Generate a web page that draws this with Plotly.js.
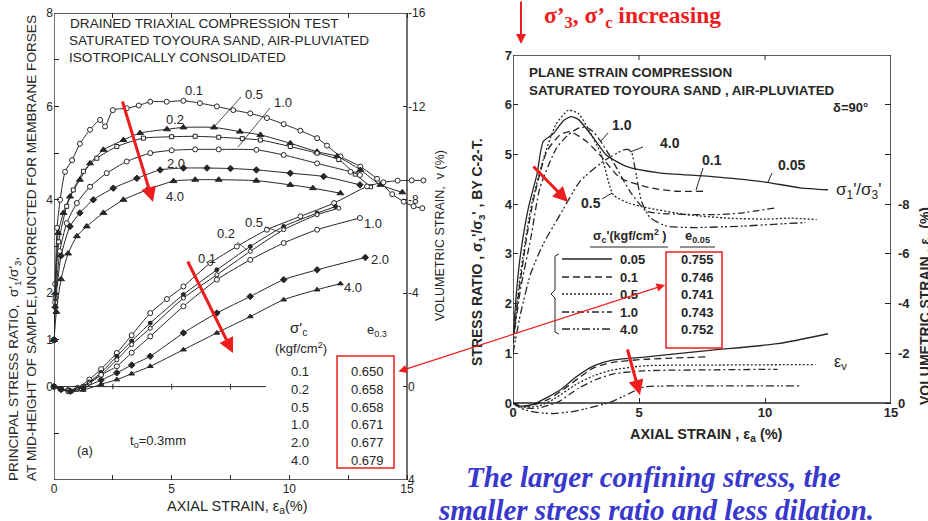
<!DOCTYPE html>
<html><head><meta charset="utf-8">
<script src="https://cdn.plot.ly/plotly-3.0.1.min.js"></script>
<style>html,body{margin:0;padding:0;background:#fff}#c{width:928px;height:521px}</style>
</head><body><div id="c"></div>
<script>
// ---------- LEFT: triaxial, stress ratio vs axial strain ----------
const ls01x=[0,0.05,0.13,0.26,0.47,0.77,1.1,1.53,1.96,2.17,2.5,3.09,3.6,4.09,4.79,5.5,6.2,6.92,7.62,8.34,9.05,9.76,10.47,11.18,11.6,12.17,13.02,13.73,14.37,14.86,15.28,15.65];
const ls01y=[1.0,2.2,3.4,4.0,4.6,4.85,5.2,5.5,5.71,5.57,5.92,5.96,6.02,6.10,6.10,6.12,6.07,6.0,5.92,5.85,5.75,5.62,5.48,5.32,5.16,4.93,4.71,4.45,4.12,3.96,3.86,3.82];
const ls02x=[0,0.05,0.18,0.4,0.68,1.1,1.53,2.1,2.95,3.66,4.8,5.5,6.8,7.9,8.77,10.04,11.18,12.03,13.02,13.87,14.8];
const ls02y=[1.0,2.0,3.29,3.72,4.07,4.43,4.78,5.07,5.28,5.43,5.51,5.55,5.55,5.46,5.39,5.21,5.03,4.93,4.64,4.32,4.16];
const ls05x=[0,0.05,0.2,0.54,0.82,1.25,1.82,2.67,3.8,5.0,6.0,7.0,8.0,8.77,10.04,11.18,12.1,12.8,13.45];
const ls05y=[1.0,1.9,3.1,3.86,4.21,4.61,4.89,5.14,5.32,5.35,5.36,5.34,5.31,5.28,5.14,5.0,4.86,4.55,4.28];
const ls10x=[0,0.05,0.25,0.54,0.97,1.53,2.24,3.09,4.09,5.0,6.0,7.0,8.6,9.76,11.18,12.6,13.0];
const ls10y=[1.0,1.8,2.9,3.5,3.93,4.28,4.57,4.82,5.0,5.06,5.08,5.08,5.07,4.96,4.78,4.6,4.53];
const ls20x=[0,0.05,0.3,0.68,1.1,1.67,2.52,3.52,4.51,5.5,6.5,7.5,8.6,10.04,11.46,13.0];
const ls20y=[1.0,1.7,2.8,3.43,3.72,4.0,4.25,4.46,4.64,4.68,4.68,4.67,4.64,4.57,4.5,4.32];
const ls40x=[0,0.1,0.3,0.6,0.97,1.39,2.1,2.95,3.94,5.08,6.0,7.0,8.6,10.04,11.0,12.17];
const ls40y=[1.0,1.6,2.3,2.85,3.22,3.43,3.72,4.0,4.21,4.4,4.43,4.43,4.41,4.32,4.25,4.14];
// ---------- LEFT: volumetric strain v (%) ----------
const lv01x=[0,0.3,0.6,1.0,1.5,2.0,2.67,3.3,4.09,4.8,5.5,6.64,7.77,9.05,10.47,11.9,13.3,14.0,14.6,15.2,15.7];
const lv01y=[0,0.1,0.15,0.05,-0.3,-0.75,-1.44,-2.2,-3.15,-3.75,-4.29,-5.29,-6.0,-6.72,-7.29,-7.86,-8.57,-8.75,-8.82,-8.83,-8.83];
const lv02x=[0,0.3,0.6,1.0,1.5,2.0,2.67,3.3,4.09,5.5,6.92,8.34,9.76,11.18,11.96];
const lv02y=[0,0.1,0.17,0.1,-0.2,-0.6,-1.3,-1.95,-2.72,-3.94,-5.0,-6.0,-6.86,-7.43,-7.71];
const lv05x=[0,0.3,0.6,1.0,1.5,2.0,2.67,3.3,4.09,5.5,6.92,8.34,9.76,11.18,12.1];
const lv05y=[0,0.12,0.18,0.12,-0.15,-0.5,-1.15,-1.8,-2.5,-3.79,-4.79,-5.79,-6.72,-7.36,-7.64];
const lv10x=[0,0.3,0.6,1.24,2.0,2.67,3.3,4.09,5.5,6.92,8.34,9.76,11.18,13.0];
const lv10y=[0,0.12,0.2,0.0,-0.5,-0.87,-1.45,-2.15,-3.44,-4.58,-5.43,-6.15,-6.72,-7.22];
const lv20x=[0,0.3,0.7,1.24,2.0,2.67,3.3,4.09,5.5,6.92,8.34,9.76,11.18,13.23];
const lv20y=[0,0.12,0.2,0.05,-0.28,-0.59,-0.92,-1.3,-2.3,-3.15,-3.86,-4.58,-5.0,-5.53];
const lv40x=[0,0.3,0.7,1.24,2.0,2.67,3.3,4.09,5.5,6.92,8.34,9.76,11.18,12.17];
const lv40y=[0,0.12,0.22,0.15,-0.1,-0.3,-0.55,-0.87,-1.58,-2.3,-3.0,-3.72,-4.15,-4.41];
// ---------- RIGHT: plane strain, stress ratio ----------
const rs005x=[0,0.15,0.3,0.6,0.95,1.2,1.6,2.0,2.3,2.6,3.2,3.7,4.5,5.8,7.8,9.8,11.4,12.5];
const rs005y=[1.3,2.3,3.0,3.9,4.6,5.26,5.42,5.68,5.76,5.7,5.33,4.99,4.76,4.63,4.56,4.46,4.33,4.29];
const rs01x=[0,0.2,0.5,0.8,1.34,1.86,2.26,2.92,3.45,4.25,5.44,6.5,7.55];
const rs01y=[1.2,2.1,3.2,4.06,5.06,5.39,5.46,5.26,4.99,4.53,4.33,4.26,4.26];
const rs05x=[0,0.3,0.7,1.2,1.7,2.2,2.6,3.0,3.5,3.98,4.6,5.3,6.9,8.5,10.0,11.0,12.05];
const rs05y=[1.3,2.6,3.9,4.9,5.6,5.89,5.82,5.5,5.0,4.19,4.02,3.93,3.79,3.72,3.7,3.72,3.69];
const rs10x=[0,0.3,0.7,1.07,1.73,2.2,2.6,2.9,3.2,3.58,4.11,4.64,5.3,6.5,8.0,9.0,10.46];
const rs10y=[1.2,2.3,3.3,4.33,5.13,5.4,5.53,5.55,5.45,5.19,4.73,4.26,3.86,3.8,3.79,3.82,3.93];
const rs40x=[0,0.3,0.7,1.2,1.87,2.66,3.58,4.38,4.55,4.7,4.84,5.1,5.44,6.1,7.15,9.13,10.5,11.6];
const rs40y=[1.0,1.8,2.6,3.2,3.79,4.46,4.86,5.09,5.1,5.05,4.73,4.06,3.73,3.56,3.53,3.56,3.6,3.63];
// ---------- RIGHT: volumetric strain ----------
const rv005x=[0,0.3,0.8,1.3,1.9,2.5,3.2,3.9,5.2,7.8,10.5,12.5];
const rv005y=[0,0.12,0.05,-0.2,-0.55,-1.05,-1.5,-1.72,-1.85,-2.12,-2.39,-2.79];
const rv01x=[0,0.3,0.8,1.4,2,2.6,3.2,3.9,5.2,7.7];
const rv01y=[0,0.12,0.08,-0.15,-0.55,-1.0,-1.42,-1.63,-1.76,-1.86];
const rv05x=[0,0.3,1,1.6,2.5,3.2,3.9,5.2,8,12];
const rv05y=[0,0.15,0.12,-0.15,-0.75,-1.1,-1.32,-1.5,-1.53,-1.55];
const rv10x=[0,0.3,1,1.8,2.6,3.3,4,5.2,8,10.5];
const rv10y=[0,0.18,0.2,-0.05,-0.6,-0.95,-1.18,-1.3,-1.34,-1.36];
const rv40x=[0,0.4,1,1.6,2.3,2.9,3.9,4.6,5.2,6.2,11.4];
const rv40y=[0,0.25,0.38,0.42,0.35,0.22,-0.05,-0.38,-0.65,-0.69,-0.69];
// legend / labels
const leftSig=['0.1','0.2','0.5','1.0','2.0','4.0'];
const leftE=['0.650','0.658','0.658','0.671','0.677','0.679'];
const rightSig=['0.05','0.1','0.5','1.0','4.0'];
const rightE=['0.755','0.746','0.741','0.743','0.752'];

const W=928,H=521, INK='#262626', RED='#ee1c1c';
const fx=p=>p/W, fy=p=>1-p/H;
const SANS='"Liberation Sans", Arial, sans-serif';
const SERIF='"Liberation Serif", "Times New Roman", serif';

const DASH={s:'solid',d:'7px,4px',o:'2px,2px',dd:'7px,3px,2px,3px',ddd:'8px,3px,2px,2px,2px,3px'};
function tr(x,y,xa,ya,opt){
  const t={x:x,y:y,xaxis:xa,yaxis:ya,type:'scatter',hoverinfo:'skip',cliponaxis:false,
    line:{color:INK,width:opt.w||1,shape:'spline',smoothing:0.6,dash:opt.dash||'solid'},
    mode:opt.sym?'lines+markers':'lines'};
  if(opt.sym) t.marker={symbol:opt.sym,size:opt.size||5,color:opt.fill||INK,line:{color:INK,width:1}};
  return t;
}
const OPEN='#fff';
const data=[
 tr(ls01x,ls01y,'x','y',{sym:'circle',fill:OPEN,size:5}),
 tr(ls02x,ls02y,'x','y',{sym:'triangle-up',size:6}),
 tr(ls05x,ls05y,'x','y',{sym:'square',fill:OPEN,size:4}),
 tr(ls10x,ls10y,'x','y',{sym:'circle',fill:OPEN,size:5}),
 tr(ls20x,ls20y,'x','y',{sym:'diamond',size:5}),
 tr(ls40x,ls40y,'x','y',{sym:'triangle-up',size:6}),
 tr(lv01x,lv01y,'x','y2',{sym:'circle',fill:OPEN,size:5}),
 tr(lv02x,lv02y,'x','y2',{sym:'circle',size:4}),
 tr(lv05x,lv05y,'x','y2',{sym:'circle',fill:OPEN,size:4}),
 tr(lv10x,lv10y,'x','y2',{sym:'circle',fill:OPEN,size:5}),
 tr(lv20x,lv20y,'x','y2',{sym:'diamond',size:5}),
 tr(lv40x,lv40y,'x','y2',{sym:'triangle-up',size:5}),
 tr(rs005x,rs005y,'x2','y3',{dash:DASH.s,w:1.3}),
 tr(rs01x,rs01y,'x2','y3',{dash:DASH.d,w:1.3}),
 tr(rs05x,rs05y,'x2','y3',{dash:DASH.o,w:1.3}),
 tr(rs10x,rs10y,'x2','y3',{dash:DASH.dd,w:1.3}),
 tr(rs40x,rs40y,'x2','y3',{dash:DASH.ddd,w:1.3}),
 tr(rv005x,rv005y,'x2','y4',{dash:DASH.s,w:1.3}),
 tr(rv01x,rv01y,'x2','y4',{dash:DASH.d,w:1.3}),
 tr(rv05x,rv05y,'x2','y4',{dash:DASH.o,w:1.3}),
 tr(rv10x,rv10y,'x2','y4',{dash:DASH.dd,w:1.3}),
 tr(rv40x,rv40y,'x2','y4',{dash:DASH.ddd,w:1.3})
];

const tfL={family:SANS,size:12,color:INK};
const tfR={family:SANS,size:13,color:INK,weight:'bold'};
const layout={
 width:W,height:H,margin:{l:0,r:0,t:0,b:0},paper_bgcolor:'#fff',plot_bgcolor:'rgba(0,0,0,0)',showlegend:false,
 xaxis:{domain:[fx(54),fx(54+16*353/15)],range:[0,16],anchor:'y',showgrid:false,zeroline:false,showline:false,
   tickvals:[0,2.5,5,7.5,10,12.5,15],ticktext:['0','','5','','10','','15'],ticks:'inside',ticklen:5,tickcolor:INK,mirror:'ticks',tickfont:tfL},
 yaxis:{domain:[fy(480),fy(13)],range:[-2,8],anchor:'x',showgrid:false,zeroline:false,showline:false,
   tickvals:[-1,0,1,2,3,4,5,6,7,8],ticktext:['','0','1','2','','4','','6','','8'],ticks:'inside',ticklen:5,tickcolor:INK,tickfont:tfL},
 yaxis2:{overlaying:'y',anchor:'free',position:fx(407),side:'right',range:[4,-16],showgrid:false,zeroline:false,showline:false,
   tickvals:[4,0,-4,-8,-12,-16],ticktext:['4','0','-4','-8','-12','-16'],ticks:'inside',ticklen:4,tickcolor:INK,tickfont:tfL},
 xaxis2:{domain:[fx(513),fx(891)],range:[0,15],anchor:'free',position:fy(403),showgrid:false,zeroline:false,showline:false,
   tickvals:[0,5,10,15],ticks:'inside',ticklen:5,tickcolor:INK,tickfont:tfR},
 yaxis3:{domain:[fy(423),fy(55)],range:[-0.4,7],anchor:'x2',showgrid:false,zeroline:false,showline:false,
   tickvals:[0,1,2,3,4,5,6,7],ticks:'inside',ticklen:5,tickcolor:INK,tickfont:tfR},
 yaxis4:{overlaying:'y3',anchor:'x2',side:'right',range:[0.8,-14],showgrid:false,zeroline:false,showline:false,
   tickvals:[0,-2,-4,-6,-8,-10,-12],ticktext:['0','-2','-4','-6','-8','',''],ticks:'inside',ticklen:6,tickcolor:INK,tickfont:tfR,ticklabelstandoff:6},
 shapes:[],annotations:[]
};
const S=layout.shapes, A=layout.annotations;
// frames
S.push({type:'rect',xref:'x',yref:'y',x0:0,x1:15,y0:-2,y1:8,line:{color:INK,width:1.3}});
S.push({type:'rect',xref:'x2',yref:'y3',x0:0,x1:15,y0:0,y1:7,line:{color:INK,width:1.5}});
// left v=0 baseline with ticks
S.push({type:'line',xref:'x',yref:'y',x0:0,x1:9,y0:0,y1:0,line:{color:INK,width:1}});
[2.5,5,7.5].forEach(v=>S.push({type:'line',xref:'x',yref:'y',x0:v,x1:v,y0:-0.06,y1:0.06,line:{color:INK,width:1}}));
// right top ticks
[5,10].forEach(v=>S.push({type:'line',xref:'x2',yref:'y3',x0:v,x1:v,y0:7,y1:6.9,line:{color:INK,width:1}}));

function pl(x0,y0,x1,y1,c,w,dash){S.push({type:'line',xref:'paper',yref:'paper',x0:fx(x0),y0:fy(y0),x1:fx(x1),y1:fy(y1),line:{color:c||INK,width:w||1,dash:dash||'solid'}});}
function prect(x0,y0,x1,y1,c,w){S.push({type:'rect',xref:'paper',yref:'paper',x0:fx(x0),y0:fy(y0),x1:fx(x1),y1:fy(y1),line:{color:c,width:w}});}
function T(x,y,text,o){o=o||{};A.push({xref:'paper',yref:'paper',x:fx(x),y:fy(y),text:text,showarrow:false,
  xanchor:o.xa||'center',yanchor:o.ya||'middle',align:o.align||'center',textangle:o.rot||0,
  font:{family:o.fam||SANS,size:o.size||12,color:o.color||INK,weight:o.weight||'normal',style:o.style||'normal'}});}
function ARW(hx,hy,tx,ty,w,both){const a={xref:'paper',yref:'paper',x:fx(hx),y:fy(hy),ax:tx-hx,ay:ty-hy,text:'',showarrow:true,
  arrowhead:2,arrowsize:both?1.4:1,arrowwidth:w,arrowcolor:RED};
  if(both){a.arrowside='end+start';a.startarrowhead=2;a.startarrowsize=1.4;} A.push(a);}

// ---- left texts ----
T(68,24,'DRAINED TRIAXIAL COMPRESSION TEST',{xa:'left',size:13.6});
T(67,41,'SATURATED TOYOURA SAND, AIR-PLUVIATED',{xa:'left',size:13.6});
T(67,57,'ISOTROPICALLY CONSOLIDATED',{xa:'left',size:13.6});
T(22,248,"PRINCIPAL STRESS RATIO,  σ'<sub>1</sub>/σ'<sub>3</sub>,<br>AT MID-HEIGHT OF SAMPLE,UNCORRECTED FOR MEMBRANE FORSES",{rot:-90,align:'left',size:13.6});
T(440,236,'VOLUMETRIC STRAIN,  v (%)',{rot:-90,size:12.5});
T(237,507,'AXIAL STRAIN, ε<sub>a</sub>(%)',{size:14.5});
// stress curve labels
T(194,90,'0.1',{size:13});T(254,94,'0.5',{size:13});T(283,102,'1.0',{size:13});T(175,120,'0.2',{size:13});T(176,163,'2.0',{size:13});T(175,196,'4.0',{size:13});
pl(241,97,213,128,INK,0.8); pl(270,108,238,147,INK,0.8);
// vol labels
T(254,222,'0.5',{size:13});T(226,233,'0.2',{size:13});T(207,258,'0.1',{size:13});T(373,224,'1.0',{size:13});T(380,259,'2.0',{size:13});T(353,287,'4.0',{size:13});
pl(265,227,280,232,INK,0.8); pl(237,242,247,250,INK,0.8);
// table
T(298,328,"σ'<sub>c</sub>",{size:15});
T(377,330,'e<sub>0.3</sub>',{size:13});
T(301,348,'(kgf/cm<sup>2</sup>)',{size:13});
const lrows=[372,389,407,424,442,460];
leftSig.forEach((s,i)=>T(300,lrows[i],s,{size:13}));
leftE.forEach((s,i)=>T(367,lrows[i],s,{size:13}));
prect(337,356,394,468,RED,1.5);
T(85,450,'(a)',{size:13});
T(158,441,'t<sub>o</sub>=0.3mm',{size:13});

// ---- right texts ----
T(527,72,'PLANE STRAIN COMPRESSION',{xa:'left',size:13.4,weight:'bold'});
T(527,90,'SATURATED TOYOURA SAND , AIR-PLUVIATED',{xa:'left',size:13.4,weight:'bold'});
T(850,108,'δ=90°',{size:13,weight:'bold'});
T(478,252,"STRESS RATIO , σ<sub>1</sub>'/σ<sub>3</sub>' , BY C-2-T.",{rot:-90,size:14,weight:'bold'});
T(926,306,'VOLUMETRIC STRAIN , ε<sub>v</sub> (%)',{rot:-90,size:14,weight:'bold'});
T(706,435,'AXIAL STRAIN , ε<sub>a</sub> (%)',{size:14.5,weight:'bold'});
T(858,191,"σ<sub>1</sub>'/σ<sub>3</sub>'",{size:17});
T(840,362,'ε<sub>v</sub>',{size:16});
T(622,125,'1.0',{size:14,weight:'bold'});T(670,143,'4.0',{size:14,weight:'bold'});
T(712,160,'0.1',{size:14,weight:'bold'});T(791,165,'0.05',{size:14,weight:'bold'});T(591,203,'0.5',{size:14,weight:'bold'});
pl(608,133,601,141);pl(643,147,630,152);pl(703,168,696,190);pl(772,173,768,182);pl(602,199,612,193);
// legend
T(629,236,"σ<sub>c</sub>'(kgf/cm<sup>2</sup> )",{size:12.5,weight:'bold'});
T(697,236,'e<sub>0.05</sub>',{size:13,weight:'bold'});
pl(590,247,668,247,INK,1.2); pl(680,247,715,247,INK,1.2);
const rrows=[259,277,294,312,329];
const rd=[DASH.s,DASH.d,DASH.o,DASH.dd,DASH.ddd];
rrows.forEach((yy,i)=>{pl(562,yy,612,yy,INK,1.3,rd[i]);T(618,yy,rightSig[i],{xa:'left',size:13,weight:'bold'});T(697,yy,rightE[i],{size:13,weight:'bold'});});
// brace
const br=[[559,254],[555,256],[555,290],[551,294],[555,298],[555,332],[559,334]];
S.push({type:'path',xref:'paper',yref:'paper',path:'M'+br.map(p=>fx(p[0])+','+fy(p[1])).join(' L'),line:{color:INK,width:1}});
prect(666,252,722,348,RED,1.5);

// ---- red annotations ----
ARW(153,202,122,100,3);
ARW(233,353,187,260,3);
ARW(568,202,532,165,3);
ARW(640,395,627,348,3);
ARW(521,44,521,0,2);
ARW(665,285,397,372,1.2,true);
T(632,17,"σ’<sub>3</sub>, σ’<sub>c</sub> increasing",{fam:SERIF,size:23.5,weight:'bold',color:RED});
T(653,477,'The larger confining stress, the',{fam:SERIF,size:29,weight:'bold',style:'italic',color:'#3838cc'});
T(656,510,'smaller stress ratio and less dilation.',{fam:SERIF,size:29,weight:'bold',style:'italic',color:'#3838cc'});

Plotly.newPlot('c',data,layout,{staticPlot:true});
</script></body></html>
